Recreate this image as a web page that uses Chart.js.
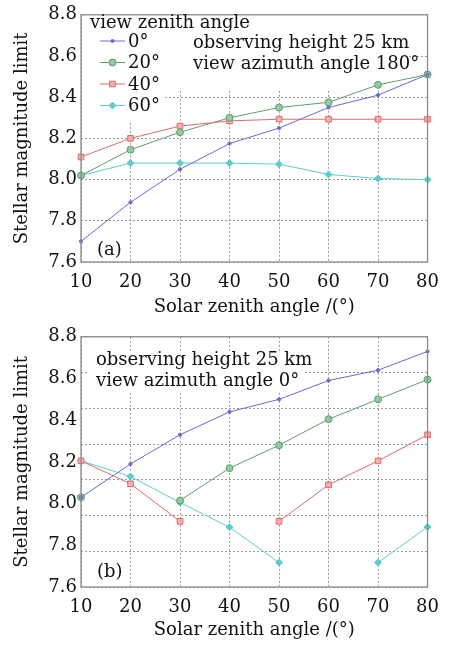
<!DOCTYPE html>
<html lang="en">
  <head>
    <meta charset="UTF-8" />
    <title>Stellar magnitude limit</title>
    <script src="https://cdn.jsdelivr.net/npm/chart.js"></script>
    <style>
      body {
        margin: 0;
        background: #fff;
      }
      .panel {
        position: absolute;
        left: 0;
        width: 449px;
      }
      #panelA {
        top: 0;
        height: 322px;
      }
      #panelB {
        top: 322px;
        height: 323px;
      }
    </style>
  </head>
  <body>
    <div class="panel" id="panelA"><canvas id="chartA"></canvas></div>
    <div class="panel" id="panelB"><canvas id="chartB"></canvas></div>

    <script>
      // solar zenith angle (deg)
      const solarAngles = ["10", "20", "30", "40", "50", "60", "70", "80"];
      const yTicks = [7.6, 7.8, 8.0, 8.2, 8.4, 8.6, 8.8];
      const zenithLabels = ["0°", "20°", "40°", "60°"];

      // (a) view azimuth angle 180°
      const a0 = [7.7, 7.89, 8.05, 8.175, 8.25, 8.35, 8.41, 8.51];
      const a20 = [8.02, 8.145, 8.23, 8.3, 8.35, 8.375, 8.46, 8.51];
      const a40 = [8.11, 8.2, 8.26, 8.285, 8.293, 8.293, 8.293, 8.293];
      const a60 = [8.02, 8.08, 8.08, 8.08, 8.075, 8.025, 8.005, 8.0];

      // (b) view azimuth angle 0°
      const b0 = [8.03, 8.19, 8.33, 8.44, 8.5, 8.59, 8.64, 8.73];
      const b20 = [8.03, null, 8.015, 8.17, 8.28, 8.405, 8.5, 8.595];
      const b40 = [8.205, 8.095, 7.915, null, 7.915, 8.09, 8.205, 8.33];
      const b60 = [8.205, 8.13, 8.005, 7.887, 7.717, null, 7.717, 7.888];

      // panel (b) grid lines split the range in 7 equal parts
      const bGrid = [7.6, 7.7714, 7.9429, 8.1143, 8.2857, 8.4571, 8.6286, 8.8];

      const FONT = "'DejaVu Serif', serif";
      const FS = 18;
      const gridColor = "#9a9a9a";

      const styles = [
        { color: "#6a6ad2", fill: "#6a6ad2", pointStyle: "circle", r: 1.6 },
        { color: "#5e9e70", fill: "#94c8a0", pointStyle: "circle", r: 3.5 },
        { color: "#e06a6a", fill: "#f3b0b0", pointStyle: "rect", r: 4 },
        { color: "#5ccccc", fill: "#5ccccc", pointStyle: "rectRot", r: 3.5 },
      ];

      function makeDatasets(series) {
        return series.map((data, i) => ({
          label: zenithLabels[i],
          data: data,
          borderColor: styles[i].color,
          backgroundColor: styles[i].fill,
          pointBorderColor: styles[i].color,
          pointBackgroundColor: styles[i].fill,
          pointStyle: styles[i].pointStyle,
          pointRadius: styles[i].r,
          borderWidth: 1,
          pointBorderWidth: 1,
          tension: 0,
          spanGaps: false,
        }));
      }

      // white boxes, annotation text and frame drawn on the chart area
      function overlay(opts) {
        return {
          id: "overlay",
          beforeDatasetsDraw(chart) {
            const ctx = chart.ctx;
            ctx.save();
            ctx.fillStyle = "#fff";
            opts.boxes.forEach((b) => ctx.fillRect(b[0], b[1], b[2] - b[0], b[3] - b[1]));
            ctx.restore();
          },
          afterDatasetsDraw(chart) {
            const ctx = chart.ctx;
            const a = chart.chartArea;
            ctx.save();
            ctx.strokeStyle = "#8a8a8a";
            ctx.lineWidth = 1.3;
            ctx.strokeRect(a.left, a.top, a.right - a.left, a.bottom - a.top);
            ctx.fillStyle = "#111";
            ctx.font = FS + "px " + FONT;
            ctx.textBaseline = "middle";
            opts.texts.forEach((t) => ctx.fillText(t[0], t[1], t[2]));
            if (opts.legend) {
              chart.data.datasets.forEach((ds, i) => {
                const y = opts.legend.y[i];
                const x0 = opts.legend.x;
                ctx.strokeStyle = ds.borderColor;
                ctx.lineWidth = 1;
                ctx.beginPath();
                ctx.moveTo(x0, y);
                ctx.lineTo(x0 + 25, y);
                ctx.stroke();
                ctx.fillStyle = ds.pointBackgroundColor;
                Chart.helpers.drawPoint(ctx, { pointStyle: ds.pointStyle, radius: ds.pointRadius, borderWidth: 1 }, x0 + 12.5, y);
                ctx.fillStyle = "#111";
                ctx.fillText(ds.label, x0 + 28, y + 1);
              });
            }
            ctx.restore();
          },
        };
      }

      function makeOptions(useGridAxis, xHeight) {
        const scales = {
          x: {
            type: "category",
            offset: false,
            grid: { color: gridColor, drawTicks: false, lineWidth: 1 },
            border: { display: false, dash: [2, 2] },
            ticks: { color: "#111", font: { family: FONT, size: FS }, padding: 10, maxRotation: 0 },
            title: {
              display: true,
              text: "Solar zenith angle /(°)",
              color: "#111",
              font: { family: FONT, size: FS },
              padding: { top: 0 },
            },
            afterFit: (s) => { s.height = xHeight; },
          },
          y: {
            min: 7.6,
            max: 8.8,
            afterBuildTicks: (s) => { s.ticks = yTicks.map((v) => ({ value: v })); },
            grid: { display: !useGridAxis, color: gridColor, drawTicks: false },
            border: { display: false, dash: [2, 2] },
            ticks: {
              color: "#111",
              font: { family: FONT, size: FS },
              padding: 4,
              callback: (v) => Number(v).toFixed(1),
            },
            title: {
              display: true,
              text: "Stellar magnitude limit",
              color: "#111",
              font: { family: FONT, size: FS },
              padding: { top: 12, bottom: 0 },
            },
            afterFit: (s) => { s.width = 81; },
          },
        };
        if (useGridAxis) {
          scales.yg = {
            position: "left",
            min: 7.6,
            max: 8.8,
            afterBuildTicks: (s) => { s.ticks = bGrid.map((v) => ({ value: v })); },
            grid: { color: gridColor, drawTicks: false },
            border: { display: false, dash: [2, 2] },
            ticks: { display: false },
            afterFit: (s) => { s.width = 0; },
          };
        }
        return {
          responsive: true,
          maintainAspectRatio: false,
          animation: false,
          layout: { padding: { top: 13, right: 11, left: 0, bottom: 0 } },
          plugins: { legend: { display: false }, tooltip: { enabled: false } },
          scales: scales,
        };
      }

      new Chart(document.getElementById("chartA"), {
        type: "line",
        data: { labels: solarAngles, datasets: makeDatasets([a0, a20, a40, a60]) },
        options: makeOptions(false, 60),
        plugins: [
          overlay({
            boxes: [
              [82, 14, 163, 122],
              [163, 14, 400, 90],
            ],
            texts: [
              ["view zenith angle", 90, 23],
              ["observing height 25 km", 193, 43],
              ["view azimuth angle 180°", 193, 64],
              ["(a)", 97, 250],
            ],
            legend: { x: 100, y: [41, 62.5, 84, 105.5] },
          }),
        ],
      });

      new Chart(document.getElementById("chartB"), {
        type: "line",
        data: { labels: solarAngles, datasets: makeDatasets([b0, b20, b40, b60]) },
        options: makeOptions(true, 58),
        plugins: [
          overlay({
            boxes: [[88, 30, 305, 70]],
            texts: [
              ["observing height 25 km", 96, 38],
              ["view azimuth angle 0°", 96, 59],
              ["(b)", 97, 250],
            ],
          }),
        ],
      });
    </script>
  </body>
</html>
